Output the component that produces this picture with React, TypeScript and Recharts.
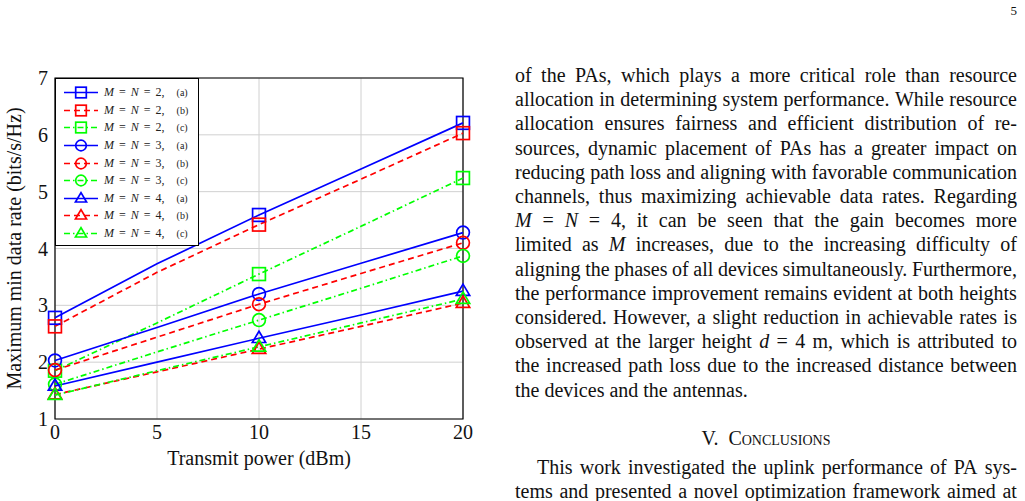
import { LineChart, Line, XAxis, YAxis, CartesianGrid, ReferenceArea, Label } from "recharts";

// x values (dBm); markers are only drawn every other sample
const power = [0, 5, 10, 15, 20];
const markedPower = [0, 10, 20];
const xTicks = [0, 5, 10, 15, 20];
const yTicks = [1, 2, 3, 4, 5, 6, 7];

// Maximum min data rate (bits/s/Hz)
const mn2a = [2.78, 3.73, 4.59, 5.4, 6.21];
const mn2b = [2.63, 3.58, 4.42, 5.22, 6.03];
const mn2c = [1.85, 2.69, 3.55, 4.39, 5.24];
const mn3a = [2.03, 2.61, 3.2, 3.74, 4.28];
const mn3b = [1.86, 2.44, 3.02, 3.56, 4.1];
const mn3c = [1.61, 2.18, 2.74, 3.3, 3.87];
const mn4a = [1.58, 2.0, 2.42, 2.83, 3.25];
const mn4b = [1.43, 1.83, 2.23, 2.63, 3.04];
const mn4c = [1.42, 1.85, 2.27, 2.69, 3.11];

const BLUE = "#0000ff";
const RED = "#ff0000";
const GREEN = "#00ff00";
const DASHED = "6 4";
const DASHDOT = "6 3 1.5 3";

const series = [
  { key: "mn2a", n: "2", variant: "(a)", values: mn2a, color: BLUE, dash: undefined, shape: "square" },
  { key: "mn2b", n: "2", variant: "(b)", values: mn2b, color: RED, dash: DASHED, shape: "square" },
  { key: "mn2c", n: "2", variant: "(c)", values: mn2c, color: GREEN, dash: DASHDOT, shape: "square" },
  { key: "mn3a", n: "3", variant: "(a)", values: mn3a, color: BLUE, dash: undefined, shape: "circle" },
  { key: "mn3b", n: "3", variant: "(b)", values: mn3b, color: RED, dash: DASHED, shape: "circle" },
  { key: "mn3c", n: "3", variant: "(c)", values: mn3c, color: GREEN, dash: DASHDOT, shape: "circle" },
  { key: "mn4a", n: "4", variant: "(a)", values: mn4a, color: BLUE, dash: undefined, shape: "triangle" },
  { key: "mn4b", n: "4", variant: "(b)", values: mn4b, color: RED, dash: DASHED, shape: "triangle" },
  { key: "mn4c", n: "4", variant: "(c)", values: mn4c, color: GREEN, dash: DASHDOT, shape: "triangle" },
];

const data = power.map((p, i) => {
  const row: any = { power: p };
  series.forEach((s) => (row[s.key] = s.values[i]));
  return row;
});

const paragraphLines = [
  "of the PAs, which plays a more critical role than resource",
  "allocation in determining system performance. While resource",
  "allocation ensures fairness and efficient distribution of re-",
  "sources, dynamic placement of PAs has a greater impact on",
  "reducing path loss and aligning with favorable communication",
  "channels, thus maximizing achievable data rates. Regarding",
  "$M = $N = 4, it can be seen that the gain becomes more",
  "limited as $M increases, due to the increasing difficulty of",
  "aligning the phases of all devices simultaneously. Furthermore,",
  "the performance improvement remains evident at both heights",
  "considered. However, a slight reduction in achievable rates is",
  "observed at the larger height $d = 4 m, which is attributed to",
  "the increased path loss due to the increased distance between",
  "the devices and the antennas.",
];
const conclusionLines = [
  "This work investigated the uplink performance of PA sys-",
  "tems and presented a novel optimization framework aimed at",
];

const SERIF = "'Liberation Serif', 'Times New Roman', serif";

function Marker({ shape, cx, cy, color, r }: any) {
  if (shape === "square")
    return <rect x={cx - r} y={cy - r} width={2 * r} height={2 * r} fill="none" stroke={color} strokeWidth={1.7} />;
  if (shape === "circle") return <circle cx={cx} cy={cy} r={r} fill="none" stroke={color} strokeWidth={1.7} />;
  const h = r * 1.1;
  return (
    <polygon
      points={`${cx},${cy - h} ${cx + h * 0.95},${cy + h * 0.6} ${cx - h * 0.95},${cy + h * 0.6}`}
      fill="none"
      stroke={color}
      strokeWidth={1.7}
    />
  );
}

const makeDot = (shape: string, color: string) => (props: any) => {
  const { cx, cy, payload, index } = props;
  if (!markedPower.includes(payload.power)) return <g key={`e${index}`} />;
  return <Marker key={`m${index}`} shape={shape} cx={cx} cy={cy} color={color} r={6.4} />;
};

function Word({ w }: { w: string }) {
  if (w.startsWith("$")) return <i>{w.slice(1)}</i>;
  return <span>{w}</span>;
}

function JustifiedLine({ text, top, left, width, last }: any) {
  const style: any = {
    position: "absolute",
    top,
    left,
    width,
    height: 24.2,
    lineHeight: "24.2px",
    whiteSpace: "nowrap",
  };
  if (last)
    return (
      <div style={style}>
        {text.split(" ").map((w: string, i: number) => (
          <span key={i}>
            {i > 0 ? " " : ""}
            <Word w={w} />
          </span>
        ))}
      </div>
    );
  return (
    <div style={{ ...style, display: "flex", justifyContent: "space-between" }}>
      {text.split(" ").map((w: string, i: number) => (
        <Word key={i} w={w} />
      ))}
    </div>
  );
}

function LegendLabel({ n, variant }: { n: string; variant: string }) {
  const gap = (w: number) => <span style={{ display: "inline-block", width: w }} />;
  return (
    <span style={{ fontSize: 12, whiteSpace: "nowrap", color: "#222" }}>
      <i>M</i>
      {gap(5)}={gap(5)}
      <i>N</i>
      {gap(5)}={gap(5)}
      {n},{gap(12)}
      <span style={{ fontSize: 10 }}>{variant}</span>
    </span>
  );
}

function LegendBox() {
  return (
    <div
      style={{
        position: "absolute",
        left: 55,
        top: 78,
        width: 144,
        height: 168,
        boxSizing: "border-box",
        border: "1px solid #000",
        background: "#fff",
        paddingTop: 5,
        fontFamily: SERIF,
      }}
    >
      {series.map((s) => (
        <div key={s.key} style={{ display: "flex", alignItems: "center", height: 17.6 }}>
          <svg width={36} height={17} style={{ marginLeft: 7, marginRight: 5, flexShrink: 0 }}>
            <line x1={1} y1={8.5} x2={35} y2={8.5} stroke={s.color} strokeWidth={1.7} strokeDasharray={s.dash} />
            <Marker shape={s.shape} cx={18} cy={8.5} color={s.color} r={5.3} />
          </svg>
          <LegendLabel n={s.n} variant={s.variant} />
        </div>
      ))}
    </div>
  );
}

export default function App() {
  return (
    <div style={{ position: "absolute", left: 0, top: 0, width: 1025, height: 501, background: "#fff", fontFamily: SERIF, color: "#111" }}>
      <div style={{ position: "absolute", left: 0, top: 0 }}>
        <LineChart width={480} height={480} data={data} margin={{ top: 78, right: 17, bottom: 0, left: 0 }}>
          <CartesianGrid stroke="#d0d0d0" strokeWidth={1} />
          <XAxis
            dataKey="power"
            type="number"
            domain={[0, 20]}
            ticks={xTicks}
            height={61}
            axisLine={false}
            tickLine={false}
            tickSize={0}
            tickMargin={6}
            tick={{ fontSize: 20, fontFamily: SERIF, fill: "#111" }}
          >
            <Label
              content={({ viewBox }: any) => (
                <text x={viewBox.x + viewBox.width / 2} y={viewBox.y + 46} textAnchor="middle" fontSize={20} fontFamily={SERIF} fill="#111">
                  Transmit power (dBm)
                </text>
              )}
            />
          </XAxis>
          <YAxis
            type="number"
            domain={[1, 7]}
            ticks={yTicks}
            width={55}
            axisLine={false}
            tickLine={false}
            tickSize={0}
            tickMargin={7}
            tick={{ fontSize: 20, fontFamily: SERIF, fill: "#111" }}
          >
            <Label
              content={({ viewBox }: any) => {
                const x = viewBox.x + 21;
                const y = viewBox.y + viewBox.height / 2;
                return (
                  <text x={x} y={y} transform={`rotate(-90, ${x}, ${y})`} textAnchor="middle" fontSize={20} fontFamily={SERIF} fill="#111">
                    Maximum min data rate (bits/s/Hz)
                  </text>
                );
              }}
            />
          </YAxis>
          <ReferenceArea x1={0} x2={20} y1={1} y2={7} fill="none" stroke="#000" strokeWidth={1.2} fillOpacity={0} />
          {series.map((s) => (
            <Line
              key={s.key}
              type="linear"
              dataKey={s.key}
              stroke={s.color}
              strokeWidth={1.7}
              strokeDasharray={s.dash}
              dot={makeDot(s.shape, s.color)}
              activeDot={false}
              isAnimationActive={false}
            />
          ))}
        </LineChart>
      </div>
      <LegendBox />

      <div style={{ position: "absolute", right: 8, top: 4, fontSize: 13, lineHeight: "13px" }}>5</div>

      <div style={{ fontSize: 20 }}>
        {paragraphLines.map((t, i) => (
          <JustifiedLine key={i} text={t} top={63 + i * 24.2} left={515} width={502} last={i === paragraphLines.length - 1} />
        ))}
        <div
          style={{
            position: "absolute",
            left: 515,
            width: 502,
            top: 426,
            lineHeight: "24.2px",
            textAlign: "center",
            fontVariant: "small-caps",
          }}
        >
          V.&nbsp;&nbsp;Conclusions
        </div>
        {conclusionLines.map((t, i) => (
          <JustifiedLine key={i} text={t} top={455 + i * 24.2} left={i === 0 ? 537 : 515} width={i === 0 ? 480 : 502} last={false} />
        ))}
      </div>
    </div>
  );
}
